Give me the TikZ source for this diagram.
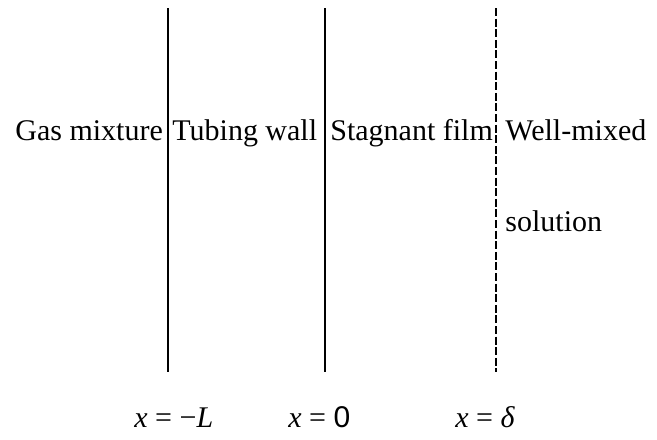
\documentclass[tikz,border=0pt]{standalone}
\usepackage{fontspec}
\setmainfont{Liberation Serif}
\newfontfamily\digitfont{Liberation Sans}
\newcommand{\eqgap}{\hspace{0.25em}}
\begin{document}
\begin{tikzpicture}[x=0.5pt,y=-0.5pt,
  wall/.style={line width=1.3pt},
  filmedge/.style={line width=1.1pt,dash pattern=on 4pt off 1.3pt},
  zone/.style={anchor=base west,inner sep=0pt,font=\fontsize{15}{18}\selectfont},
  posn/.style={anchor=base west,inner sep=0pt,font=\fontsize{15}{18}\selectfont}]
\useasboundingbox (0,0) rectangle (657,439);
% Boundaries
\coordinate (walltop) at (168,8);
\coordinate (wallbot) at (168,372);
\coordinate (filmtop) at (325,8);
\coordinate (filmbot) at (325,372);
\coordinate (bulktop) at (496,8);
\coordinate (bulkbot) at (496,372);
\draw[wall] (walltop) -- (wallbot);
\draw[wall] (filmtop) -- (filmbot);
\draw[filmedge] (bulktop) -- (bulkbot);
% Regions
\node[zone] (gas) at (15,140) {Gas mixture};
\node[zone] (tube) at (172,140) {Tubing wall};
\node[zone] (film) at (330,140) {Stagnant film};
\node[zone] (bulk) at (505,140) {Well-mixed};
\node[zone] (bulksol) at (505,231) {solution};
% Positions
\node[posn] (xL) at (134,427) {\textit{x}\eqgap=\eqgap−\textit{L}};
\node[posn] (xzero) at (288,427) {\textit{x}\eqgap=\eqgap{\digitfont 0}};
\node[posn] (xdelta) at (455,427) {\textit{x}\eqgap=\eqgap\textit{δ}};
\end{tikzpicture}
\end{document}
